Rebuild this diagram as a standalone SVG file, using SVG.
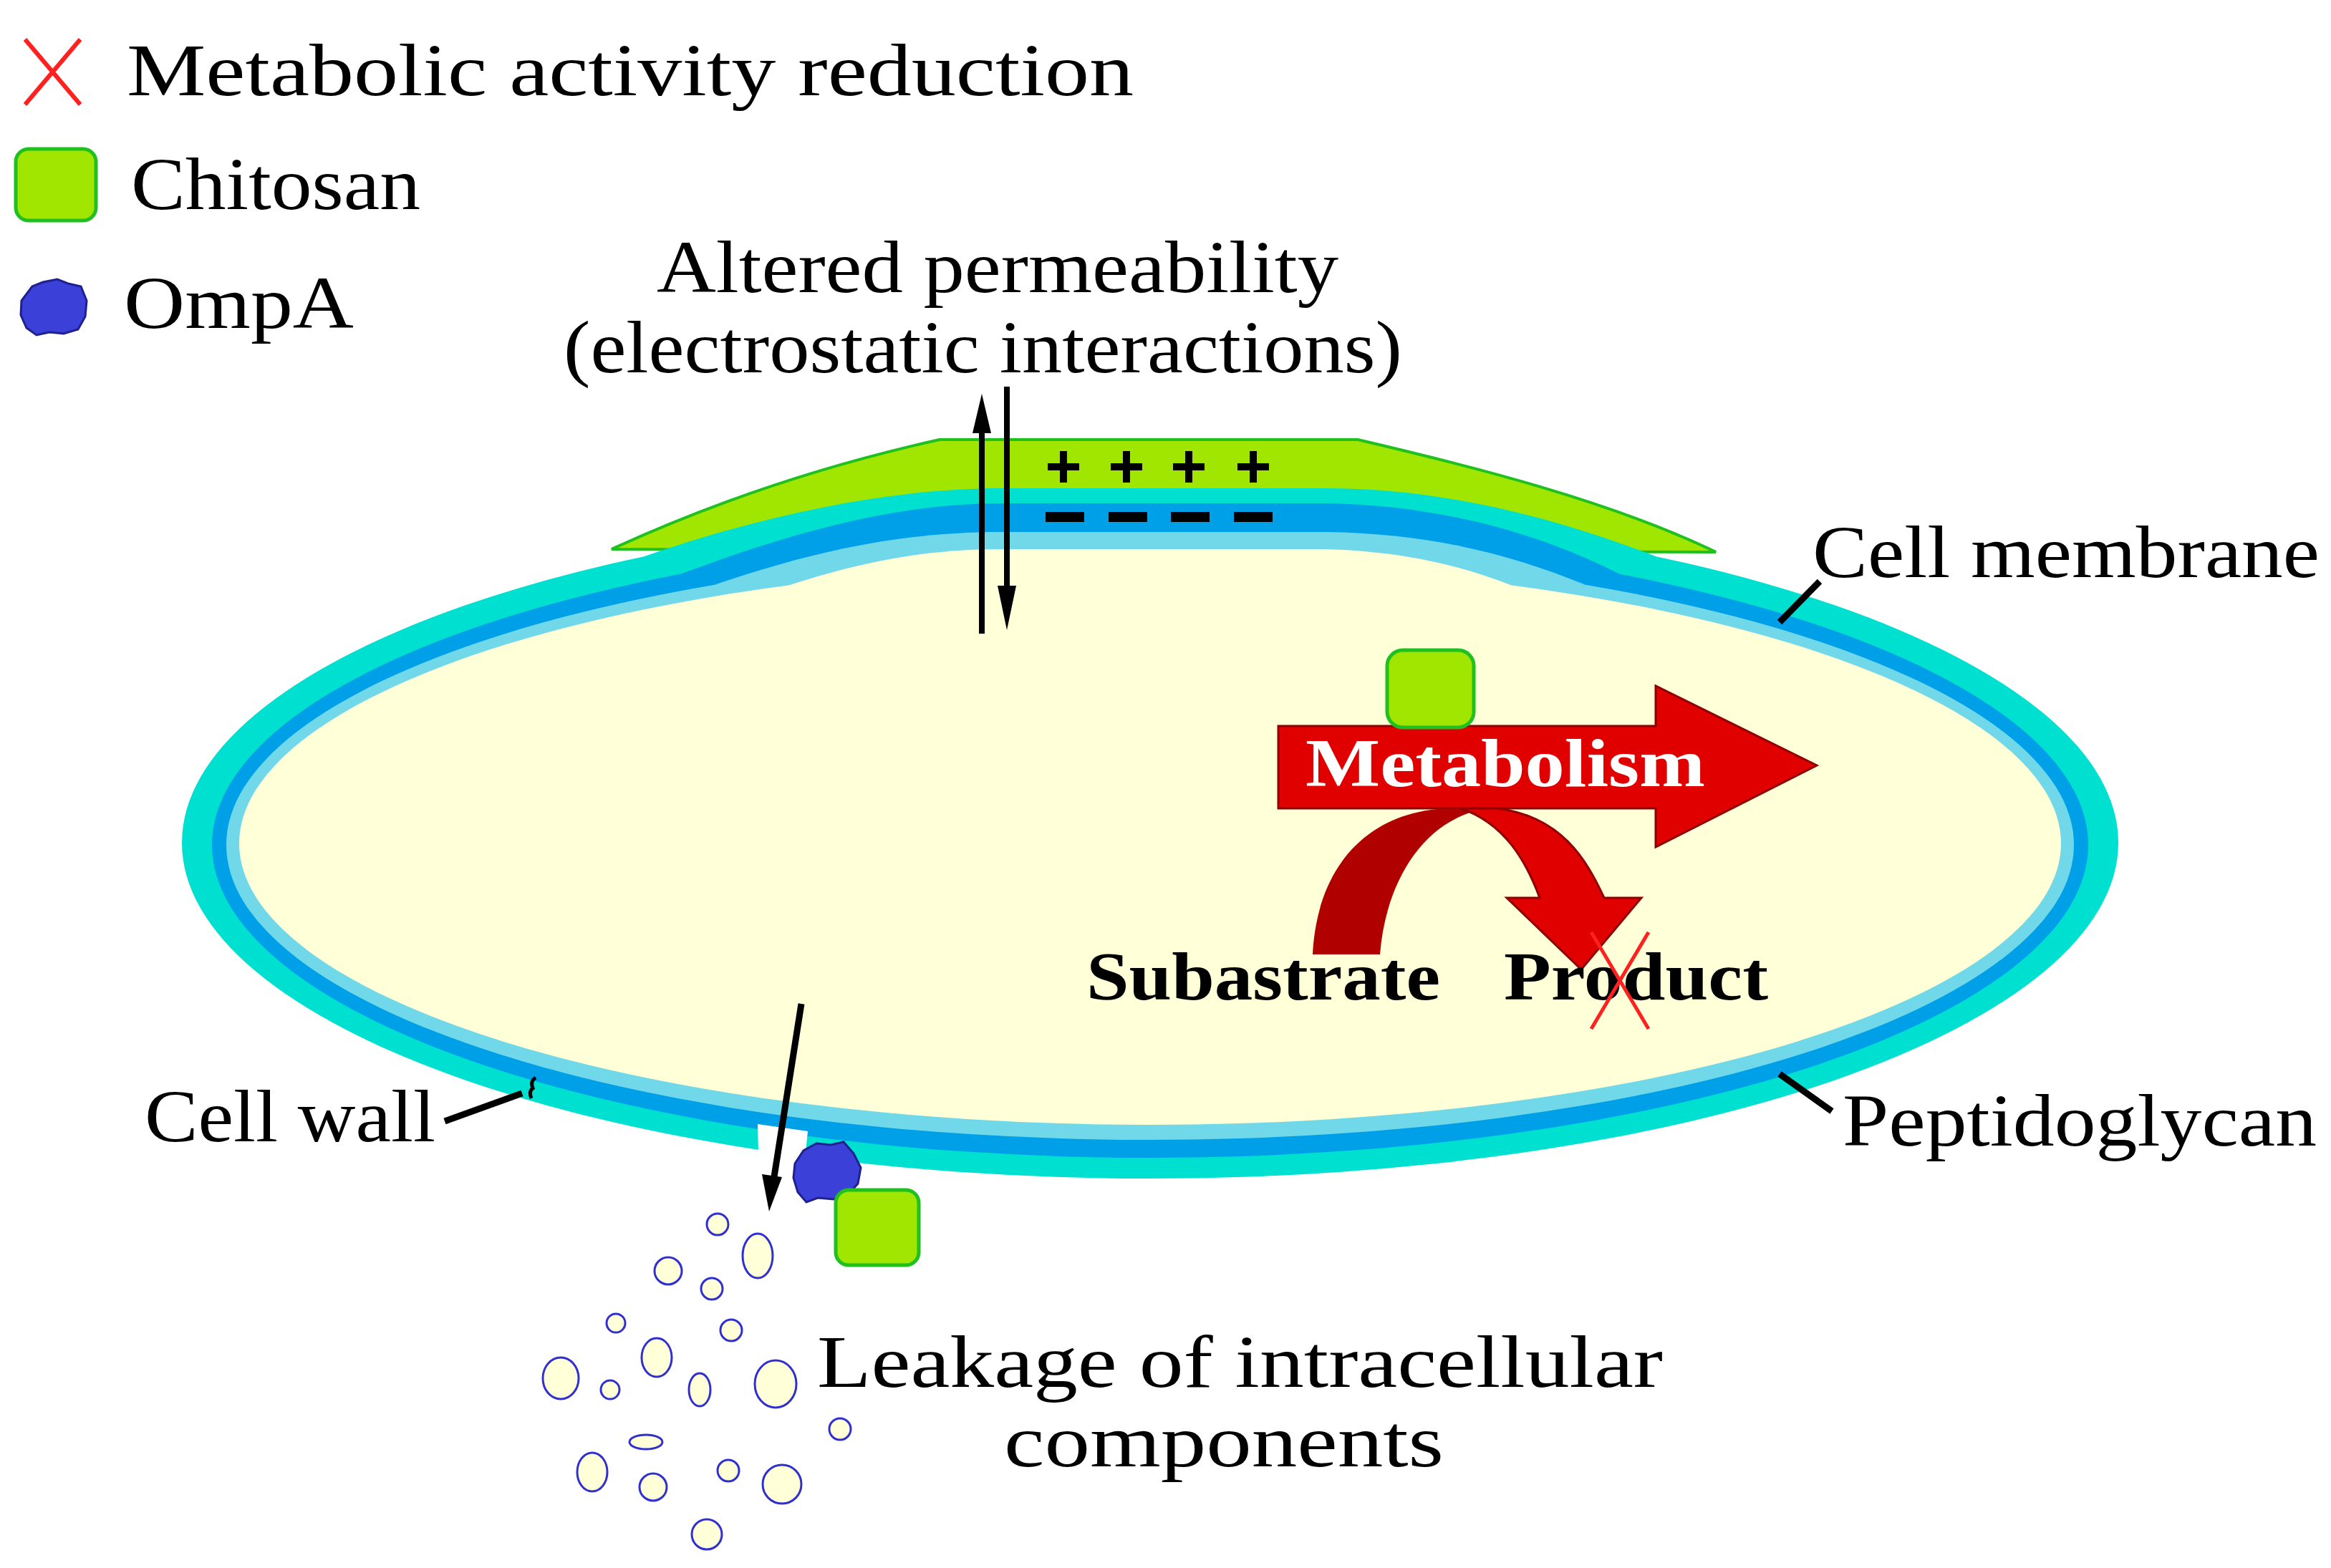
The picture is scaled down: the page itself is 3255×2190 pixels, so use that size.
<svg xmlns="http://www.w3.org/2000/svg" width="3255" height="2190" viewBox="0 0 3255 2190">
<style>
.t{font-family:"Liberation Serif",serif;font-size:104px;fill:#000}
.b{font-family:"Liberation Serif",serif;font-size:96px;font-weight:bold}
.v{fill:#ffffd8;stroke:#3030d0;stroke-width:3}
.chi{fill:#a0e600;stroke:#20c020;stroke-width:5}
</style>
<rect width="3255" height="2190" fill="#fff"/>
<g id="cell">
<ellipse cx="1606" cy="1177" rx="1352" ry="469" fill="#00e0d0"/>
<path d="M854,767 C1000,700 1150,650 1312,614 L1896,614 C2050,650 2250,700 2396,771 Z" fill="#a0e600" stroke="#20c020" stroke-width="4"/>
<path d="M900,777 C1080,715 1250,682 1400,682 L1850,682 C2000,682 2150,715 2312,777 L2312,1000 L900,1000 Z" fill="#00e0d0"/>
<ellipse cx="1606" cy="1180" rx="1310" ry="437" fill="#00a0e8"/>
<path d="M950,802 C1120,738 1260,703 1400,703 L1850,703 C2000,705 2140,740 2262,802 L2262,1000 L950,1000 Z" fill="#00a0e8"/>
<ellipse cx="1606" cy="1180" rx="1290" ry="412" fill="#70d8e8"/>
<path d="M1000,816 C1150,765 1270,743 1400,743 L1850,743 C2000,745 2110,775 2212,816 L2212,1000 L1000,1000 Z" fill="#70d8e8"/>
<ellipse cx="1606" cy="1178" rx="1272" ry="393" fill="#ffffd8"/>
<path d="M1100,818 C1200,785 1290,767 1400,767 L1850,767 C1960,770 2040,790 2112,818 L2112,1000 L1100,1000 Z" fill="#ffffd8"/>
<path d="M1058,1570 L1128,1580 L1120,1660 L1060,1650 Z" fill="#fff"/>
</g>
<g id="charges" fill="#000">
<path d="M1463,647h44v10h-44zM1480,630h10v44h-10z M1551,647h44v10h-44zM1568,630h10v44h-10z M1638,647h44v10h-44zM1655,630h10v44h-10z M1728,647h44v10h-44zM1745,630h10v44h-10z"/>
<rect x="1460" y="715" width="54" height="14"/><rect x="1548" y="715" width="54" height="14"/><rect x="1635" y="715" width="54" height="14"/><rect x="1723" y="715" width="54" height="14"/>
</g>
<g id="connectors" stroke="#000" fill="none">
<line x1="1371" y1="885" x2="1371" y2="590" stroke-width="8"/>
<path d="M1371,550 L1384,605 L1358,605 Z" fill="#000" stroke="none"/>
<line x1="1406" y1="540" x2="1406" y2="830" stroke-width="8"/>
<path d="M1406,880 L1393,818 L1419,818 Z" fill="#000" stroke="none"/>
<line x1="1119" y1="1402" x2="1080" y2="1650" stroke-width="9"/>
<path d="M1074,1692 L1064,1640 L1092,1644 Z" fill="#000" stroke="none"/>
<line x1="2485" y1="869" x2="2541" y2="812" stroke-width="9"/>
<line x1="2485" y1="1500" x2="2558" y2="1552" stroke-width="9"/>
<line x1="621" y1="1566" x2="729" y2="1527" stroke-width="9"/>
<path d="M748,1505 q-8,5 -4,15 q-6,4 -2,14" stroke-width="5"/>
</g>
<g id="legend">
<path d="M35,55 L112,146 M112,55 L35,146" stroke="#ff2020" stroke-width="6"/>
<text class="t" x="177" y="133" textLength="1406" lengthAdjust="spacingAndGlyphs">Metabolic activity reduction</text>
<rect x="22" y="208" width="112" height="100" rx="18" class="chi"/>
<text class="t" x="183" y="292" textLength="404" lengthAdjust="spacingAndGlyphs">Chitosan</text>
<path d="M30,420 l15,-20 l15,-6 l20,-4 l15,6 l18,4 l8,20 l-2,22 l-10,18 l-20,6 l-20,-2 l-18,4 l-14,-10 l-8,-18 Z" fill="#3a40d8" stroke="#202090" stroke-width="3"/>
<text class="t" x="173" y="458" textLength="321" lengthAdjust="spacingAndGlyphs">OmpA</text>
</g>
<g id="labels">
<text class="t" x="917" y="408" textLength="952" lengthAdjust="spacingAndGlyphs">Altered permeability</text>
<text class="t" x="787" y="520" textLength="1171" lengthAdjust="spacingAndGlyphs">(electrostatic interactions)</text>
<text class="t" x="2531" y="806" textLength="708" lengthAdjust="spacingAndGlyphs">Cell membrane</text>
<text class="t" x="2573" y="1600" textLength="662" lengthAdjust="spacingAndGlyphs">Peptidoglycan</text>
<text class="t" x="202" y="1594" textLength="406" lengthAdjust="spacingAndGlyphs">Cell wall</text>
<text class="t" x="1141" y="1937" textLength="1181" lengthAdjust="spacingAndGlyphs">Leakage of intracellular</text>
<text class="t" x="1402" y="2048" textLength="614" lengthAdjust="spacingAndGlyphs">components</text>
</g>
<g id="metabolism">
<path d="M1785,1014 L2312,1014 L2312,958 L2537,1069 L2312,1183 L2312,1129 L1785,1129 Z" fill="#e00000" stroke="#900000" stroke-width="3"/>
<text class="b" x="1823" y="1098" fill="#fff" textLength="558" lengthAdjust="spacingAndGlyphs">Metabolism</text>
<rect x="1937" y="908" width="121" height="108" rx="22" class="chi"/>
<path d="M1833,1333 C1840,1200 1920,1129 2030,1129 L2080,1129 C1990,1140 1935,1230 1927,1333 Z" fill="#b00000"/>
<path d="M2040,1129 L2090,1129 C2180,1140 2215,1200 2240,1254 L2292,1254 L2208,1354 L2104,1254 L2150,1254 C2130,1200 2100,1150 2040,1129 Z" fill="#e00000" stroke="#900000" stroke-width="3"/>
<text class="b" x="1517" y="1396" fill="#000" textLength="494" lengthAdjust="spacingAndGlyphs">Subastrate</text>
<text class="b" x="2100" y="1396" fill="#000" textLength="369" lengthAdjust="spacingAndGlyphs">Product</text>
<path d="M2222,1302 L2302,1437 M2302,1302 L2222,1437" stroke="#ff2020" stroke-width="5"/>
</g>
<g id="ompa-chitosan">
<path d="M1110,1625 l12,-18 l18,-10 l20,2 l18,-4 l14,16 l10,20 l-4,22 l-14,16 l-20,6 l-22,-2 l-16,6 l-12,-14 l-6,-20 Z" fill="#3a40d8" stroke="#202090" stroke-width="3"/>
<rect x="1167" y="1662" width="116" height="105" rx="18" class="chi"/>
</g>
<g id="vesicles">
<ellipse class="v" cx="1002" cy="1710" rx="15" ry="15"/>
<ellipse class="v" cx="1058" cy="1754" rx="21" ry="31"/>
<ellipse class="v" cx="933" cy="1775" rx="19" ry="19"/>
<ellipse class="v" cx="994" cy="1800" rx="15" ry="15"/>
<ellipse class="v" cx="860" cy="1848" rx="13" ry="13"/>
<ellipse class="v" cx="1021" cy="1858" rx="15" ry="15"/>
<ellipse class="v" cx="917" cy="1896" rx="21" ry="27"/>
<ellipse class="v" cx="783" cy="1925" rx="25" ry="29"/>
<ellipse class="v" cx="852" cy="1941" rx="13" ry="13"/>
<ellipse class="v" cx="977" cy="1941" rx="15" ry="23"/>
<ellipse class="v" cx="1083" cy="1933" rx="29" ry="33"/>
<ellipse class="v" cx="902" cy="2014" rx="23" ry="10"/>
<ellipse class="v" cx="1173" cy="1996" rx="15" ry="15"/>
<ellipse class="v" cx="827" cy="2056" rx="21" ry="27"/>
<ellipse class="v" cx="912" cy="2077" rx="19" ry="19"/>
<ellipse class="v" cx="1017" cy="2054" rx="15" ry="15"/>
<ellipse class="v" cx="1092" cy="2073" rx="27" ry="27"/>
<ellipse class="v" cx="987" cy="2143" rx="21" ry="21"/>
</g>
</svg>
